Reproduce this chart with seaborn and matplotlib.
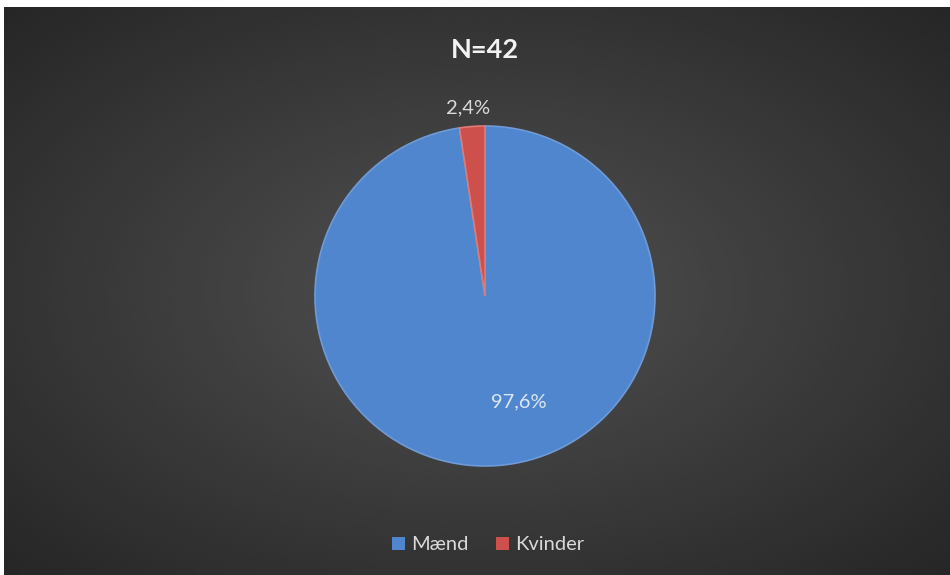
import numpy as np
import seaborn as sns
import matplotlib.pyplot as plt
from matplotlib.patches import Patch

# data
labels = ["Mænd", "Kvinder"]
values = [97.6, 2.4]
pct_labels = ["97,6%", "2,4%"]
title = "N=42"

sns.set_theme(style="white")
plt.rcParams['font.family'] = ['Lato', 'DejaVu Sans']
colors = sns.color_palette(["#4f86cd", "#cd504c"])

fig = plt.figure(figsize=(9.5, 5.75), dpi=100)
fig.patch.set_facecolor("white")

# radial gradient background (leaves a thin white strip at top/left)
bg = fig.add_axes([4 / 950, 0, 946 / 950, 568 / 575])
yy, xx = np.mgrid[-1:1:300j, -1:1:500j]
r = np.sqrt(xx ** 2 + yy ** 2) / np.sqrt(2)
shade = 0.32 - 0.17 * np.clip(r, 0, 1)
bg.imshow(shade, cmap="gray", vmin=0, vmax=1, aspect="auto",
          extent=[0, 1, 0, 1], interpolation="bicubic")
bg.set_axis_off()

# pie axes: center ~ (485, 296), radius ~ 170 px
ax = fig.add_axes([(485 - 200) / 950, (575 - 296 - 200) / 575, 400 / 950, 400 / 575])
wedges, _ = ax.pie(values, colors=colors, startangle=90, counterclock=False,
                   radius=170, wedgeprops=dict(linewidth=1.2, edgecolor="#6f9ad8"))
wedges[1].set_edgecolor("#e07a76")
ax.set_xlim(-200, 200)
ax.set_ylim(-200, 200)
ax.set_aspect("equal")
ax.set_axis_off()

# data labels
ax.text(34, -106, pct_labels[0], ha="center", va="center", color="#dde6f3", fontsize=14.5)
ax.text(-17, 188, pct_labels[1], ha="center", va="center", color="#d9d9d9", fontsize=14.5)

fig.text(485 / 950, 1 - 50 / 575, title, ha="center", va="center", color="#f2f2f2",
         fontsize=19.5, fontweight="bold")

handles = [Patch(facecolor=c, edgecolor="none") for c in colors]
fig.legend(handles, labels, loc="center", bbox_to_anchor=(488 / 950, 1 - 545 / 575),
           ncol=2, frameon=False, fontsize=14.5, labelcolor="#d9d9d9",
           handlelength=0.65, handleheight=0.65, handletextpad=0.3, columnspacing=1.4)

fig.savefig("out.png", dpi=100, facecolor=fig.get_facecolor())
